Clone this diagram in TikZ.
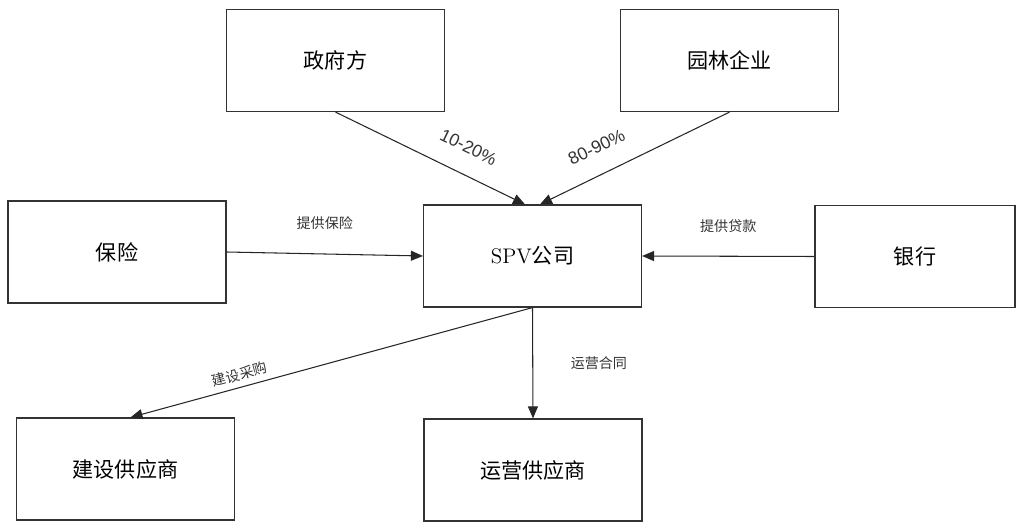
\documentclass[tikz,border=0pt]{standalone}
\usepackage{fontspec}
\newfontfamily\cjk{Noto Sans CJK SC}
\newfontfamily\arial{Liberation Sans}
\usetikzlibrary{arrows.meta}

\begin{document}
\begin{tikzpicture}[
    x=0.02cm, y=-0.02cm,
    >={Triangle[length=2.4mm, width=2mm]},
    % Styles
    party/.style={draw=black!80, rectangle, minimum width=4.36cm, minimum height=2.04cm, line width=0.7pt, font=\cjk\fontsize{12}{14}\selectfont},
    flow/.style={->, draw=black!85, line width=0.6pt},
    tag/.style={font=\cjk\fontsize{8}{10}\selectfont, text=black!80},
    pct/.style={font=\arial\fontsize{10}{12}\selectfont, text=black!80}
    ]
    \useasboundingbox (0,0) rectangle (1024,523);

    % 1. Shareholders (top row)
    \node (gov) [party] at (335.5,60.5) {政府方};
    \node (firm) [party] at (729.5,60.5) {园林企业};

    % 2. Middle row
    \node (ins) [party] at (117,252) {保险};
    \node (spv) [party] at (532.5,256) {{\rmfamily SPV}公司};
    \node (bank) [party, minimum width=4cm] at (915,256.5) {银行};

    % 3. Suppliers
    \node (build) [party] at (125.5,469) {建设供应商};
    \node (oper) [party] at (533,470) {运营供应商};

    % Connections / Arrows
    \draw[flow] (gov.south) -- ([xshift=-0.15cm]spv.north) node[pos=0.64, above=8pt, sloped, pct] {10-20\%};
    \draw[flow] (firm.south) -- ([xshift=0.15cm]spv.north) node[pos=0.64, above=8pt, sloped, pct] {80-90\%};
    \draw[flow] (ins.east) -- (spv.west) node[midway, above=10pt, tag] {提供保险};
    \draw[flow] (bank.west) -- (spv.east) node[midway, above=10pt, tag] {提供贷款};
    \draw[flow] (spv.south) -- ([xshift=0.1cm]build.north) node[pos=0.72, above, sloped, tag] {建设采购};
    \draw[flow] (spv.south) -- (oper.north) node[midway, right=18pt, tag] {运营合同};
\end{tikzpicture}
\end{document}
